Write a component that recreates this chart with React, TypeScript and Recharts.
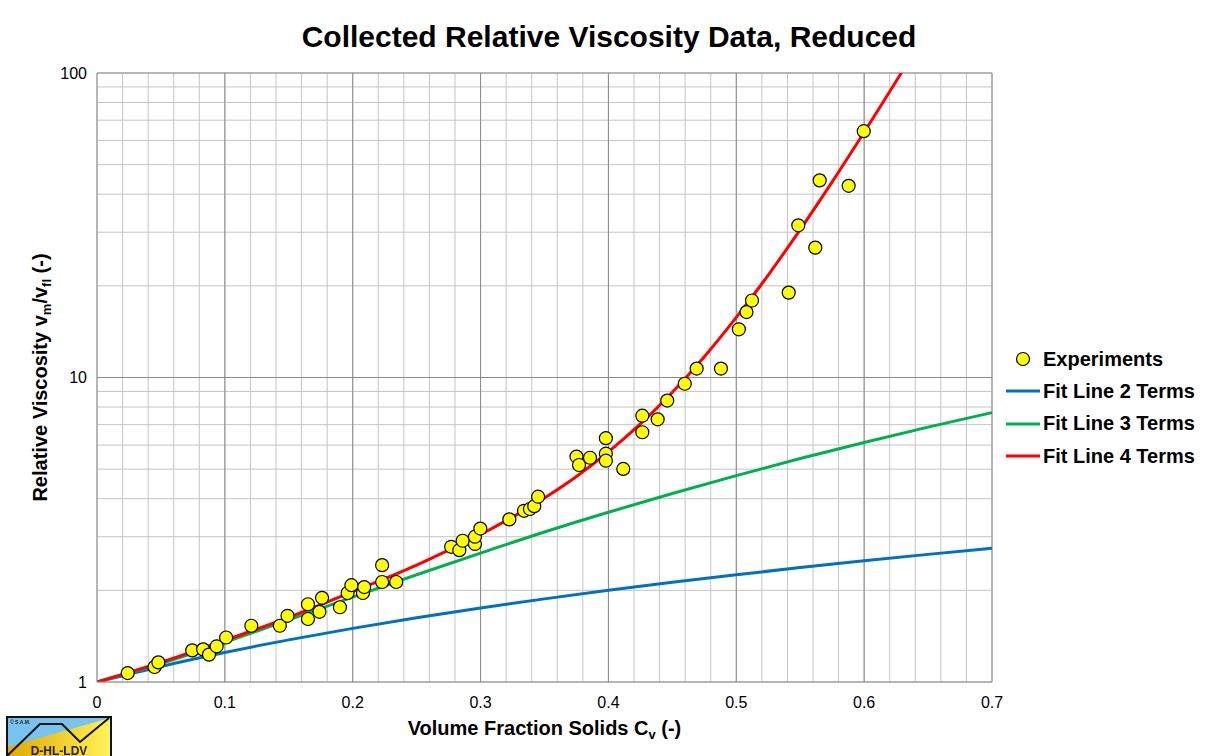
import React from 'react';
import {
  ComposedChart,
  Line,
  Scatter,
  XAxis,
  YAxis,
  CartesianGrid,
  ReferenceLine,
} from 'recharts';

// experiments
const expCv = [
  0.024, 0.045, 0.048, 0.0745, 0.083, 0.0876, 0.0936, 0.101, 0.1207, 0.143,
  0.149, 0.165, 0.165, 0.176, 0.174, 0.19, 0.196, 0.199, 0.208, 0.209,
  0.223, 0.223, 0.234, 0.277, 0.2834, 0.286, 0.2956, 0.2956, 0.2998, 0.3225,
  0.334, 0.3386, 0.342, 0.345, 0.375, 0.377, 0.3856, 0.398, 0.398, 0.398,
  0.4116, 0.4265, 0.4265, 0.4385, 0.446, 0.4597, 0.469, 0.488, 0.502, 0.508,
  0.5123, 0.541, 0.5485, 0.5618, 0.5652, 0.5879, 0.5997,
];
const expVisc = [
  1.07, 1.12, 1.16, 1.27, 1.28, 1.23, 1.31, 1.4, 1.53, 1.53,
  1.65, 1.8, 1.61, 1.89, 1.7, 1.76, 1.96, 2.08, 1.96, 2.05,
  2.42, 2.13, 2.13, 2.78, 2.71, 2.91, 2.84, 3.0, 3.19, 3.42,
  3.65, 3.7, 3.78, 4.06, 5.5, 5.16, 5.45, 6.32, 5.62, 5.33,
  5.01, 6.61, 7.49, 7.29, 8.4, 9.54, 10.7, 10.7, 14.4, 16.4,
  17.9, 19.0, 31.6, 26.7, 44.4, 42.6, 64.4,
];

// fit lines
const fitCv = [0, 0.05, 0.1, 0.15, 0.2, 0.25, 0.3, 0.35, 0.4, 0.45, 0.5, 0.55, 0.6, 0.65, 0.7];
const fit2 = [1, 1.125, 1.25, 1.375, 1.5, 1.625, 1.75, 1.875, 2.0, 2.125, 2.25, 2.375, 2.5, 2.625, 2.75];
const fit3 = [1, 1.15, 1.35, 1.6, 1.9, 2.25, 2.65, 3.11, 3.61, 4.16, 4.76, 5.42, 6.12, 6.87, 7.67];
const fit4Cv = [
  0, 0.05, 0.1, 0.15, 0.2, 0.25, 0.275, 0.3, 0.325, 0.35, 0.375, 0.4, 0.425,
  0.45, 0.475, 0.5, 0.525, 0.55, 0.575, 0.6, 0.625, 0.63,
];
const fit4 = [
  1.0, 1.16, 1.37, 1.63, 1.98, 2.42, 2.71, 3.05, 3.48, 4.02, 4.73, 5.7, 7.04,
  8.95, 11.7, 15.75, 21.7, 30.6, 43.9, 63.9, 93.9, 101.6,
];

const xTicks = [
  0, 0.02, 0.04, 0.06, 0.08, 0.1, 0.12, 0.14, 0.16, 0.18, 0.2, 0.22, 0.24, 0.26,
  0.28, 0.3, 0.32, 0.34, 0.36, 0.38, 0.4, 0.42, 0.44, 0.46, 0.48, 0.5, 0.52,
  0.54, 0.56, 0.58, 0.6, 0.62, 0.64, 0.66, 0.68, 0.7,
];
const xLabels = [0, 0.1, 0.2, 0.3, 0.4, 0.5, 0.6, 0.7];
const yTicks = [1, 2, 3, 4, 5, 6, 7, 8, 9, 10, 20, 30, 40, 50, 60, 70, 80, 90, 100];
const yLabels = [1, 10, 100];

const FONT = '"Liberation Sans", Arial, sans-serif';
const BLUE = '#0070C0';
const GREEN = '#00B050';
const RED = '#FF0000';
const MAJOR = '#8a8a8a';
const MINOR = '#c4c4c4';

const toPts = (xs: number[], ys: number[]) => xs.map((x, i) => ({ x, y: ys[i] }));

const XTitle = (props: any) => {
  const vb = props.viewBox || { x: 97, y: 682, width: 895, height: 74 };
  return (
    <text x={vb.x + vb.width / 2} y={735} textAnchor="middle" fontFamily={FONT} fontSize={20} fontWeight="bold" fill="#000">
      Volume Fraction Solids C<tspan dy={4} fontSize={13}>v</tspan>
      <tspan dy={-4}> (-)</tspan>
    </text>
  );
};

const YTitle = (props: any) => {
  const vb = props.viewBox || { x: 0, y: 73, width: 97, height: 609 };
  const cx = 47;
  const cy = vb.y + vb.height / 2;
  return (
    <text x={cx} y={cy} transform={`rotate(-90, ${cx}, ${cy})`} textAnchor="middle" fontFamily={FONT} fontSize={20} fontWeight="bold" fill="#000">
      Relative Viscosity v<tspan dy={4} fontSize={13}>m</tspan>
      <tspan dy={-4}>/v</tspan>
      <tspan dy={4} fontSize={13}>fl</tspan>
      <tspan dy={-4}> (-)</tspan>
    </text>
  );
};

const Dot = (props: any) => (
  <circle cx={props.cx} cy={props.cy} r={6.5} fill="#FFFF00" stroke="#000" strokeWidth={1.2} />
);

const legendItems = [
  { name: 'Experiments', color: '' },
  { name: 'Fit Line 2 Terms', color: BLUE },
  { name: 'Fit Line 3 Terms', color: GREEN },
  { name: 'Fit Line 4 Terms', color: RED },
];

const Logo = () => (
  <svg width={106} height={41} style={{ position: 'absolute', left: 6, top: 716 }}>
    <defs>
      <linearGradient id="gold" x1="0" y1="0" x2="1" y2="0">
        <stop offset="0%" stopColor="#e0a800" />
        <stop offset="100%" stopColor="#fff35a" />
      </linearGradient>
    </defs>
    <rect x={1} y={1} width={104} height={40} fill="#78c4ee" />
    <polygon points="1,31 104,2 105,41 1,41" fill="url(#gold)" />
    <polyline points="1,40 34,8 56,8 74,26 103,2" fill="none" stroke="#111" strokeWidth={2} />
    <rect x={1} y={1} width={104} height={40} fill="none" stroke="#111" strokeWidth={2} />
    <text x={4} y={8} fontFamily={FONT} fontSize={5} fontWeight="bold" fill="#222">© S.A.M.</text>
    <text x={53} y={39} textAnchor="middle" fontFamily={FONT} fontSize={12} fontWeight="bold" fill="#222">D-HL-LDV</text>
  </svg>
);

export default function App() {
  return (
    <div style={{ position: 'fixed', left: 0, top: 0, width: 1211, height: 756, background: '#fff', fontFamily: FONT }}>
      <div style={{ position: 'absolute', left: 0, width: 1218, top: 20, textAlign: 'center', fontSize: 30, fontWeight: 'bold', color: '#000' }}>
        Collected Relative Viscosity Data, Reduced
      </div>

      <ComposedChart width={1211} height={756} margin={{ top: 73, right: 219, bottom: 0, left: 0 }}>
        <CartesianGrid stroke={MINOR} strokeWidth={1} />
        <XAxis
          dataKey="x"
          type="number"
          domain={[0, 0.7]}
          ticks={xTicks}
          interval={0}
          tickFormatter={(v: number) => (xLabels.includes(v) ? String(v) : '')}
          tickLine={false}
          tickMargin={9}
          axisLine={{ stroke: MAJOR }}
          height={74}
          tick={{ fill: '#000', fontSize: 16, fontFamily: FONT }}
          label={<XTitle />}
          allowDataOverflow
        />
        <YAxis
          dataKey="y"
          type="number"
          scale="log"
          domain={[1, 100]}
          ticks={yTicks}
          interval={0}
          tickFormatter={(v: number) => (yLabels.includes(v) ? String(v) : '')}
          tickLine={false}
          tickMargin={4}
          axisLine={{ stroke: MAJOR }}
          width={97}
          tick={{ fill: '#000', fontSize: 16, fontFamily: FONT }}
          label={<YTitle />}
          allowDataOverflow
        />
        {[0.1, 0.2, 0.3, 0.4, 0.5, 0.6, 0.7].map((v) => (
          <ReferenceLine key={'x' + v} x={v} stroke={MAJOR} strokeWidth={1} />
        ))}
        {[10, 100].map((v) => (
          <ReferenceLine key={'y' + v} y={v} stroke={MAJOR} strokeWidth={1} />
        ))}
        <Line data={toPts(fitCv, fit2)} dataKey="y" type="monotone" stroke={BLUE} strokeWidth={3} dot={false} isAnimationActive={false} />
        <Line data={toPts(fitCv, fit3)} dataKey="y" type="monotone" stroke={GREEN} strokeWidth={3} dot={false} isAnimationActive={false} />
        <Line data={toPts(fit4Cv, fit4)} dataKey="y" type="monotone" stroke={RED} strokeWidth={3} dot={false} isAnimationActive={false} />
        <Scatter data={toPts(expCv, expVisc)} dataKey="y" shape={<Dot />} isAnimationActive={false} />
      </ComposedChart>

      <div style={{ position: 'absolute', left: 1005, top: 343 }}>
        {legendItems.map((it) => (
          <div key={it.name} style={{ display: 'flex', alignItems: 'center', height: 32.3 }}>
            <svg width={38} height={20}>
              {it.color ? (
                <line x1={1} y1={10} x2={35} y2={10} stroke={it.color} strokeWidth={3} />
              ) : (
                <circle cx={18} cy={10} r={6.5} fill="#FFFF00" stroke="#000" strokeWidth={1.2} />
              )}
            </svg>
            <span style={{ fontSize: 20, fontWeight: 'bold', color: '#000', whiteSpace: 'nowrap' }}>{it.name}</span>
          </div>
        ))}
      </div>

      <Logo />
    </div>
  );
}
